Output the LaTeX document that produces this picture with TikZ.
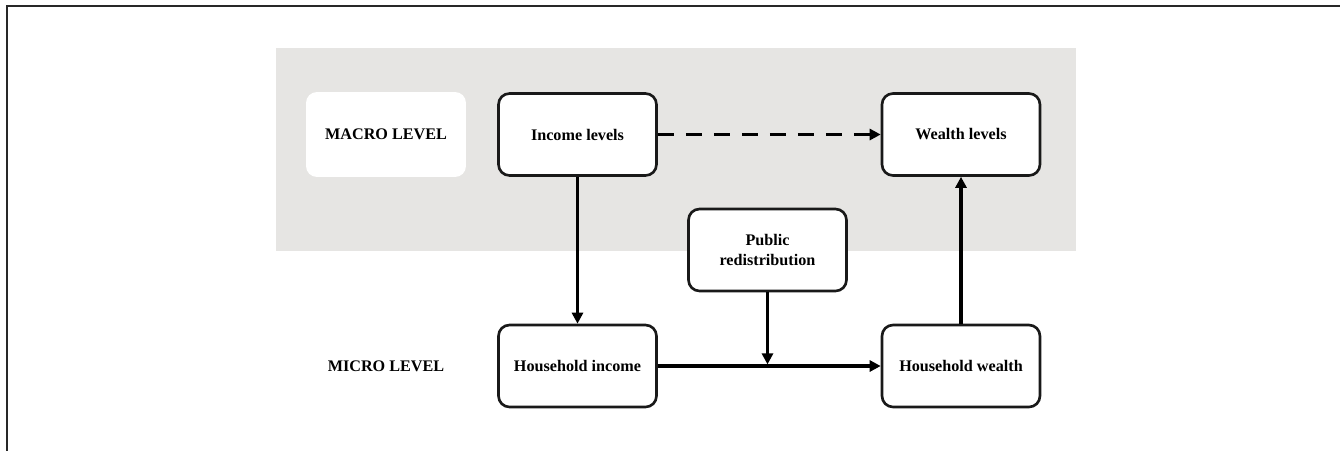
\documentclass[tikz,border=0pt]{standalone}
\usepackage{fontspec}
\setmainfont{Liberation Serif}
\usetikzlibrary{arrows.meta}
\definecolor{macrogray}{RGB}{230,229,227}
\definecolor{framegray}{RGB}{40,40,40}

\begin{document}
\begin{tikzpicture}[x=0.02cm,y=-0.02cm,
    font=\fontsize{9.2}{11}\selectfont\bfseries]
  \tikzstyle{box}=[draw=black!90,line width=1.5pt,rounded corners=0.22cm,
    fill=white,minimum width=3.16cm,minimum height=1.64cm,align=center]
  \tikzstyle{link}=[line width=1.9pt,-{Triangle[length=0.22cm,width=0.22cm]}]
  \useasboundingbox (0,0) rectangle (1340,451);
  \draw[framegray,line width=1.1pt] (1340,6) -- (7,6) -- (7,451);
  \fill[macrogray] (276,48) rectangle (1076,251);
  \node[fill=white,rounded corners=0.22cm,minimum width=3.2cm,
    minimum height=1.7cm] (macro) at (386,134.5) {MACRO LEVEL};
  \node (micro) at (386,366) {MICRO LEVEL};
  \node[box] (inclev) at (577.5,134.5) {Income levels};
  \node[box] (wealev) at (961,134.5) {Wealth levels};
  \node[box] (pubred) at (767.5,250) {Public\\redistribution};
  \node[box] (hhinc) at (577.5,366) {Household income};
  \node[box] (hhwea) at (961,366) {Household wealth};
  \coordinate (meet) at (pubred.south |- hhinc.east);
  \draw[link,dash pattern=on 0.32cm off 0.24cm] (inclev) -- (wealev);
  \draw[link] (inclev) -- (hhinc);
  \draw[link] (hhinc) -- (hhwea);
  \draw[link,shorten >=0.9pt] (pubred) -- (meet);
  \draw[link] (hhwea) -- (wealev);
\end{tikzpicture}
\end{document}
